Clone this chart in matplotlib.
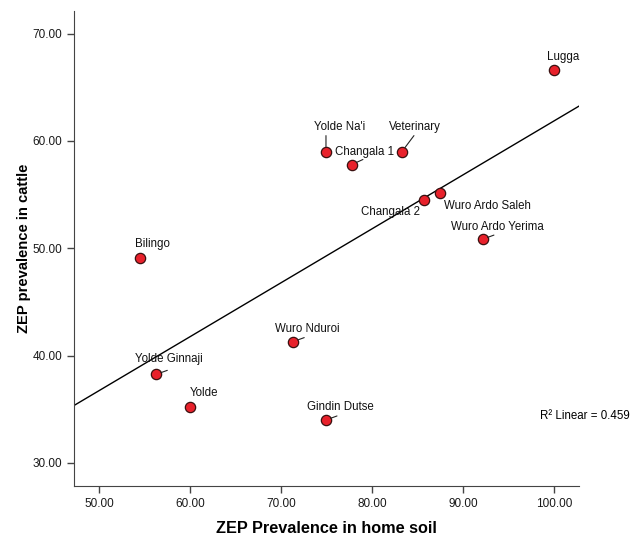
import numpy as np
import matplotlib
matplotlib.use("Agg")
from matplotlib import pyplot as plt

plt.rcParams['font.family'] = ['Liberation Sans', 'DejaVu Sans']

# villages, soil prevalence (x) and cattle prevalence (y)
sites = ['Bilingo', 'Lugga', "Yolde Na'i", 'Veterinary', 'Changala 1', 'Changala 2',
         'Wuro Ardo Saleh', 'Wuro Ardo Yerima', 'Yolde Ginnaji', 'Yolde',
         'Wuro Nduroi', 'Gindin Dutse']
soil = [54.5, 100.0, 74.95, 83.3, 77.8, 85.7, 87.5, 92.2, 56.3, 60.0, 71.35, 74.95]
cattle = [49.1, 66.65, 59.0, 59.0, 57.8, 54.5, 55.1, 50.85, 38.25, 35.25, 41.3, 34.0]
xticks = [50, 60, 70, 80, 90, 100]
yticks = [30, 40, 50, 60, 70]
r2_text = 'R² Linear = 0.459'

# label offsets in pixels (text centre) and optional leader line end
label_pos = {
    'Bilingo': (13, 14, None),
    'Lugga': (9, 13, None),
    "Yolde Na'i": (14, 25, (0, 16)),
    'Veterinary': (13, 25, (12, 16)),
    'Changala 1': (13, 13, (11, 5)),
    'Changala 2': (-33, -12, None),
    'Wuro Ardo Saleh': (47, -13, None),
    'Wuro Ardo Yerima': (14, 12, (11, 4)),
    'Yolde Ginnaji': (13, 15, (11, 4)),
    'Yolde': (14, 14, None),
    'Wuro Nduroi': (14, 13, (11, 4)),
    'Gindin Dutse': (14, 13, (11, 4)),
}

fig = plt.figure(figsize=(6.32, 5.37), dpi=100)
ax = fig.add_axes([0.117, 0.095, 0.799, 0.8845])

# fit line
slope, icpt = np.polyfit(soil, cattle, 1)
xl = np.array([47.25, 102.75])
ax.plot(xl, slope * xl + icpt, color='black', lw=1.0, zorder=1)

ax.scatter(soil, cattle, s=55, color='#e8212b', edgecolor='#3a1010', linewidth=0.9, zorder=3)

for name, x, y in zip(sites, soil, cattle):
    dx, dy, lead = label_pos[name]
    ax.annotate(name, (x, y), xytext=(dx, dy), textcoords='offset pixels',
                ha='center', va='center', fontsize=8.3, color='#111111')
    if lead is not None:
        ax.annotate('', (x, y), xytext=lead, textcoords='offset pixels',
                    arrowprops=dict(arrowstyle='-', color='#222222', lw=0.8,
                                    shrinkA=0, shrinkB=3.6))

ax.text(98.5, 34.4, r2_text, fontsize=8.3, ha='left', va='center', clip_on=False)

ax.set_xlim(47.25, 102.75)
ax.set_ylim(27.85, 72.1)
ax.set_xticks(xticks)
ax.set_yticks(yticks)
ax.set_xticklabels(['%.2f' % v for v in xticks])
ax.set_yticklabels(['%.2f' % v for v in yticks])
ax.tick_params(labelsize=8.5, length=5, width=1, color='#444444', labelcolor='#1a1a1a')
for s in ['top', 'right']:
    ax.spines[s].set_visible(False)
for s in ['left', 'bottom']:
    ax.spines[s].set_color('#444444')

ax.set_xlabel('ZEP Prevalence in home soil', fontsize=11.7, fontweight='bold', labelpad=8)
ax.set_ylabel('ZEP prevalence in cattle', fontsize=10.6, fontweight='bold', labelpad=1)

fig.savefig('out.png', dpi=100)
